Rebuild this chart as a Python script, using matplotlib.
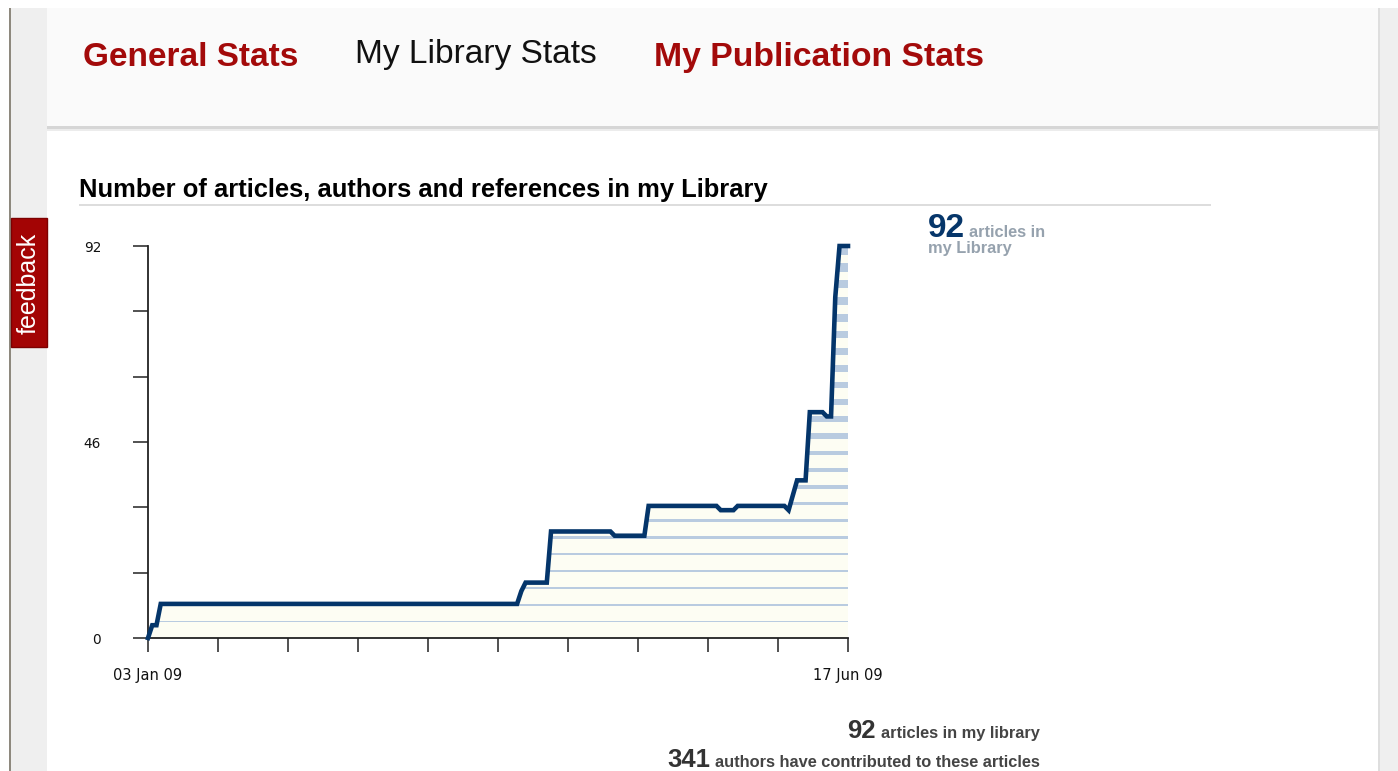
import matplotlib
matplotlib.use('Agg')
import matplotlib.pyplot as plt
from matplotlib.patches import Rectangle
import matplotlib.dates as mdates
import numpy as np
import pandas as pd

# library growth: days since 03 Jan 2009 and number of articles on that day
start = pd.Timestamp('2009-01-03')
end = pd.Timestamp('2009-06-17')
day_offsets = [0, 1, 2, 3, 87, 88, 89, 94, 95, 109, 110, 117, 118, 134, 135,
               138, 139, 150, 151, 153, 155, 156, 159, 160, 161, 162, 163, 165]
article_counts = [0, 3, 3, 8, 8, 11, 13, 13, 25, 25, 24, 24, 31, 31, 30,
                  30, 31, 31, 30, 37, 37, 53, 53, 52, 52, 80, 92, 92]
n_authors = 341

tabs = ['General Stats', 'My Library Stats', 'My Publication Stats']
chart_title = 'Number of articles, authors and references in my Library'
x_labels = ['03 Jan 09', '17 Jun 09']

dates = [start + pd.Timedelta(days=d) for d in day_offsets]
xnum = mdates.date2num(dates)
counts = np.array(article_counts)
n_articles = counts[-1]

W, H = 1398, 771
fig = plt.figure(figsize=(W / 100, H / 100), dpi=100)
fig.patch.set_facecolor('white')

# page background drawn in pixel coordinates
bg = fig.add_axes([0, 0, 1, 1], zorder=0)
bg.set_xlim(0, W)
bg.set_ylim(H, 0)
bg.axis('off')

def box(x0, y0, x1, y1, color, **kw):
    bg.add_patch(Rectangle((x0, y0), x1 - x0, y1 - y0, facecolor=color,
                           edgecolor=kw.pop('edgecolor', 'none'), **kw))

box(11, 8, 47, H, '#efefef')
box(9, 8, 11, H, '#8e897e')
box(1380, 8, W, H, '#efefef')
box(1378, 8, 1380, H, '#dedede')
box(47, 8, 1378, 127, '#fafafa')
box(47, 126, 1378, 129, '#d6d6d6')
box(47, 129, 1378, 131, '#ececec')

# feedback tab
box(11, 218, 47, 347, '#a30404', edgecolor='#7d0000', linewidth=1)
bg.text(29, 283, 'feedback', rotation=90, color='white', fontsize=18,
        family='Liberation Sans', ha='center', va='center')

# navigation tabs
bg.text(83, 66.5, tabs[0], color='#a30a0a', fontsize=24, fontweight='bold',
        family='Liberation Sans', va='baseline')
bg.text(355, 63.3, tabs[1], color='#111111', fontsize=24.1,
        family='Liberation Sans', va='baseline')
bg.text(654, 65.7, tabs[2], color='#a30a0a', fontsize=24.3, fontweight='bold',
        family='Liberation Sans', va='baseline')

# section title with rule
bg.text(79, 197.5, chart_title, color='black', fontsize=18.4, fontweight='bold',
        family='Liberation Sans', va='baseline')
box(79, 204, 1211, 206, '#dddddd')

# chart
ax = fig.add_axes([148 / W, (H - 638) / H, 700 / W, 392 / H], zorder=1)
ax.set_facecolor('none')
ax.set_xlim(xnum[0], xnum[-1])
ax.set_ylim(0, n_articles)

area = ax.fill_between(xnum, counts, 0, facecolor='#fdfdf3', edgecolor='none',
                       zorder=1)
clip = area.get_paths()[0]
px_per_unit = 392 / n_articles
n_stripes = 23
for k in range(1, n_stripes + 1):
    level = 4 * k
    thick = (1.3 + 7.5 * (k - 1) / (n_stripes - 1)) / px_per_unit
    s = ax.axhspan(level - thick, level, facecolor='#b9cbe0', edgecolor='none',
                   zorder=2)
    s.set_clip_path(clip, ax.transData)

ax.plot(xnum, counts, color='#04356a', linewidth=3.3, solid_joinstyle='miter',
        zorder=3, clip_on=False)

for side in ('top', 'right'):
    ax.spines[side].set_visible(False)
for side in ('left', 'bottom'):
    ax.spines[side].set_linewidth(1.3)
    ax.spines[side].set_color('#222222')

ax.set_yticks(np.linspace(0, n_articles, 7))
ax.set_yticklabels(['0', '', '', '46', '', '', '92'])
ax.set_xticks(np.linspace(xnum[0], xnum[-1], 11))
ax.set_xticklabels([x_labels[0]] + [''] * 9 + [x_labels[1]])
ax.tick_params(axis='y', length=10.8, width=1.1, color='#222222', pad=23,
               labelsize=9.8, labelcolor='#111111')
ax.tick_params(axis='x', length=10.3, width=1.1, color='#222222', pad=11,
               labelsize=10.5, labelcolor='#111111')
for lab in ax.get_xticklabels() + ax.get_yticklabels():
    lab.set_family('DejaVu Sans')

# summary beside the chart
bg.text(928, 237, str(n_articles), color='#06366a', fontsize=24,
        fontweight='bold', family='Liberation Sans', va='baseline')
small_kw = dict(color='#96a2ae', fontsize=11.8, fontweight='bold',
                family='Liberation Sans', va='baseline')
bg.text(969, 237, 'articles in', **small_kw)
bg.text(928, 253, 'my Library', **small_kw)

# totals under the chart, right aligned
r = fig.canvas.get_renderer()
rows = [(str(n_articles), 'articles in my library', 738),
        (str(n_authors), 'authors have contributed to these articles', 767)]
for num, words, yb in rows:
    t = bg.text(1040, yb, words, color='#444444', fontsize=11.8,
                fontweight='bold', family='Liberation Sans', ha='right',
                va='baseline')
    w = t.get_window_extent(renderer=r).width
    bg.text(1040 - w - 5, yb, num, color='#333333', fontsize=18.5,
            fontweight='bold', family='Liberation Sans', ha='right',
            va='baseline')

fig.savefig('out.png', dpi=100, facecolor='white')
